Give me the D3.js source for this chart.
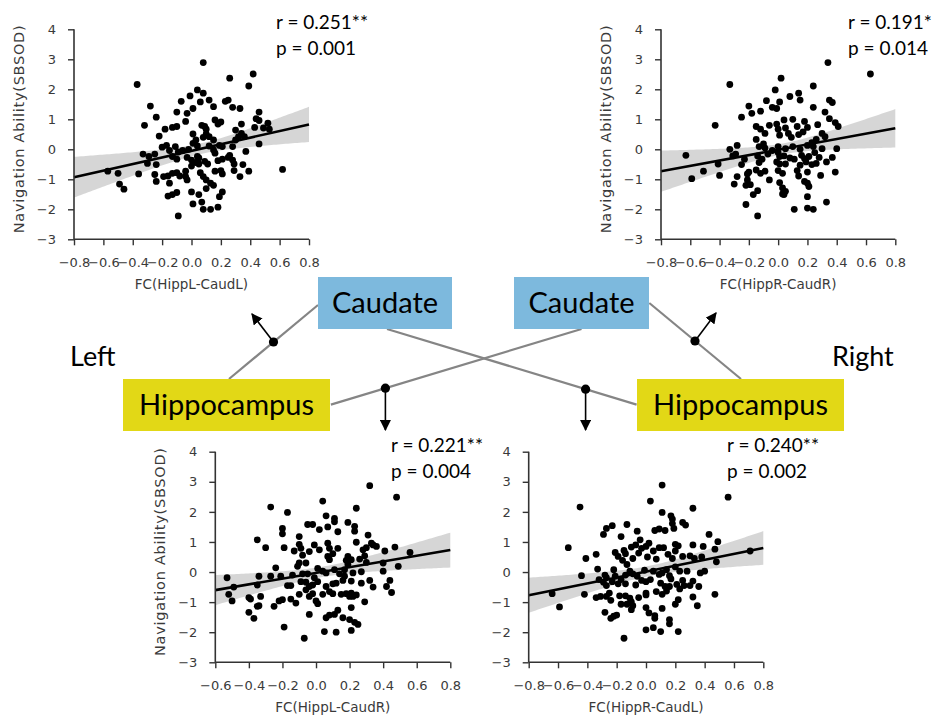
<!DOCTYPE html>
<html><head><meta charset="utf-8">
<script src="https://cdn.jsdelivr.net/npm/d3@7"></script>
<style>body{margin:0;background:#fff}svg{display:block}</style>
</head><body>
<svg id="c" width="933" height="720"></svg>
<script>
// ---------------- DATA ----------------
const yTicks = [-3,-2,-1,0,1,2,3,4];
const xTicksA = [-0.8,-0.6,-0.4,-0.2,0.0,0.2,0.4,0.6,0.8];
const xTicksB = [-0.6,-0.4,-0.2,0.0,0.2,0.4,0.6,0.8];
const xLabels = ["FC(HippL-CaudL)","FC(HippR-CaudR)","FC(HippL-CaudR)","FC(HippR-CaudL)"];
const yLabel = "Navigation Ability(SBSOD)";
const rTexts = ["r = 0.251**","r = 0.191*","r = 0.221**","r = 0.240**"];
const pTexts = ["p = 0.001","p = 0.014","p = 0.004","p = 0.002"];
const regionNames = ["Caudate","Caudate","Hippocampus","Hippocampus"];
const sideNames = ["Left","Right"];
// fitted line value at left and right end of each x axis
const fitEnds = [[-0.93,0.83],[-0.73,0.70],[-0.60,0.73],[-0.77,0.80]];

const ptsHippLCaudL = [[0.08,2.89],[0.42,2.51],[0.26,2.37],[-0.37,2.16],[0.39,2.11],[0.04,1.98],[0.08,1.87],[-0.01,1.78],[-0.07,1.6],[0.06,1.58],[0.12,1.64],[0.15,1.42],[-0.28,1.44],[0.23,1.6],[0.25,1.64],[0.28,1.4],[0.33,1.36],[-0.10,1.24],[-0.03,1.2],[0.01,1.36],[0.46,1.24],[-0.24,1.07],[-0.32,0.8],[-0.04,0.93],[0.07,0.8],[0.16,0.98],[0.2,0.91],[0.18,0.84],[0.44,1.02],[0.46,0.96],[0.52,0.87],[0.43,0.73],[-0.18,0.67],[-0.13,0.73],[-0.1,0.76],[0.09,0.76],[0.1,0.67],[0.01,0.51],[-0.22,0.44],[0.1,0.51],[0.12,0.42],[0.15,0.31],[0.08,0.4],[0.03,0.31],[0.34,0.84],[0.3,0.64],[0.36,0.42],[0.32,0.42],[0.34,0.53],[0.49,0.71],[0.53,0.67],[-0.2,0.07],[-0.17,0.13],[-0.15,-0.04],[-0.11,0.09],[-0.09,-0.09],[-0.06,-0.04],[-0.02,0],[0.01,0.2],[0.04,0.11],[0.12,0.11],[0.15,-0.02],[0.19,0.13],[0.21,0.09],[0.28,0.09],[0.3,0.31],[0.37,-0.07],[0.46,0.18],[-0.33,-0.16],[-0.29,-0.24],[-0.25,-0.16],[-0.3,-0.47],[-0.24,-0.51],[-0.13,-0.24],[-0.1,-0.33],[-0.03,-0.27],[0,-0.36],[0.03,-0.44],[0.05,-0.29],[0.09,-0.4],[0.11,-0.49],[0.05,-0.49],[0.04,-0.24],[0.16,-0.13],[0.18,-0.38],[0.21,-0.33],[0.25,-0.27],[0.28,-0.36],[0.26,-0.2],[0.35,-0.51],[0.29,-0.49],[-0.57,-0.73],[-0.5,-0.8],[-0.36,-0.82],[-0.25,-0.84],[-0.24,-1.07],[-0.19,-0.91],[-0.16,-0.89],[-0.13,-0.8],[-0.1,-0.78],[-0.08,-0.89],[-0.04,-0.91],[-0.03,-1.02],[-0.15,-1.13],[-0.04,-0.73],[0,-0.56],[0.06,-0.78],[0.08,-0.91],[0.1,-1.02],[0.13,-1.13],[0.15,-1.2],[0.16,-0.73],[0.21,-0.82],[0.2,-0.71],[0.29,-0.71],[0.33,-0.91],[0.39,-0.73],[-0.49,-1.16],[-0.46,-1.33],[0,-1.42],[0.05,-1.51],[0.1,-1.31],[-0.16,-1.56],[-0.13,-1.51],[-0.1,-1.44],[0.19,-1.58],[0.21,-1.42],[0.01,-1.82],[0.07,-1.76],[0.08,-2],[0.13,-2],[0.18,-1.93],[-0.09,-2.22],[0.62,-0.67]];

const ptsHippRCaudR = [[0.34,2.89],[0.63,2.51],[0.02,2.37],[-0.33,2.16],[0.24,2.11],[-0.02,1.98],[0.14,1.87],[0.15,1.64],[-0.08,1.62],[0.01,1.58],[0.08,1.76],[0.35,1.64],[0.37,1.56],[-0.2,1.44],[-0.04,1.4],[0.24,1.4],[-0.01,1.36],[-0.12,1.27],[-0.18,1.2],[-0.25,1.07],[0.32,1.24],[-0.43,0.8],[-0.06,0.8],[0.04,0.98],[0.1,1],[0.18,0.93],[0.2,0.73],[0.35,1.02],[0.39,0.89],[0.41,0.76],[-0.15,0.76],[-0.12,0.67],[-0.01,0.84],[0,0.67],[0.05,0.71],[0.07,0.53],[-0.15,0.33],[-0.09,0.53],[0.01,0.47],[0.14,0.49],[0.09,0.4],[0.17,0.58],[0.13,0.76],[0.27,0.82],[0.3,0.53],[0.32,0.42],[0.26,0.33],[0.23,0.22],[-0.33,0],[-0.28,0.13],[-0.13,0.09],[-0.1,0.18],[-0.09,0.04],[-0.04,-0.04],[0,0.09],[0.05,0.02],[0.1,0.09],[0.15,0],[0.2,0.13],[0.24,0.09],[0.3,0.02],[0.4,0.02],[-0.63,-0.2],[-0.23,-0.33],[-0.31,-0.22],[-0.29,-0.16],[-0.14,-0.22],[-0.11,-0.33],[-0.07,-0.16],[0,-0.11],[0.01,-0.24],[0.04,-0.22],[0.08,-0.29],[0.11,-0.33],[0.16,-0.2],[0.18,-0.31],[0.21,-0.24],[0.25,-0.11],[0.28,-0.27],[0.37,-0.27],[-0.41,-0.49],[-0.25,-0.51],[-0.13,-0.44],[-0.01,-0.42],[0.01,-0.49],[0.05,-0.49],[0.15,-0.53],[0.19,-0.42],[0.23,-0.51],[0.26,-0.47],[-0.51,-0.73],[-0.4,-0.87],[-0.28,-0.91],[-0.21,-0.82],[-0.2,-0.76],[-0.15,-0.69],[-0.12,-0.8],[-0.09,-0.73],[-0.06,-1.02],[0,-0.71],[0.03,-0.8],[0.13,-0.71],[0.14,-0.89],[0.2,-0.76],[0.29,-0.87],[0.39,-0.76],[0.33,-0.42],[-0.59,-0.98],[-0.3,-1.16],[-0.21,-1.02],[-0.22,-1.2],[-0.19,-1.18],[0.01,-1.11],[0.03,-1.29],[0.05,-1.4],[0.03,-1.49],[0.18,-1.07],[0.2,-1.13],[0.21,-1.24],[-0.17,-1.51],[-0.14,-1.38],[0.04,-1.51],[0.2,-1.58],[-0.22,-1.84],[0.11,-2],[0.2,-1.96],[0.24,-2],[0.33,-1.76],[-0.14,-2.22]];

const ptsHippLCaudR = [[0.32,2.87],[0.48,2.49],[0.04,2.36],[-0.27,2.16],[-0.17,1.98],[0.24,2.12],[0.06,1.87],[0.11,1.78],[0.11,1.67],[-0.05,1.58],[-0.02,1.58],[0.19,1.65],[0.23,1.52],[-0.2,1.45],[-0.2,1.27],[0.02,1.41],[0.07,1.5],[0.13,1.34],[0.23,1.36],[-0.35,1.07],[-0.1,1.18],[-0.1,0.92],[-0.19,0.81],[-0.3,0.81],[-0.13,0.7],[-0.09,0.79],[-0.08,0.56],[-0.04,0.68],[-0.01,0.9],[0.02,0.74],[0.07,0.96],[0.08,0.79],[0.1,0.61],[0.13,0.79],[0.24,0.99],[0.31,1.23],[0.33,0.96],[0.34,0.9],[0.36,0.85],[0.28,0.74],[0.3,0.81],[0.47,0.83],[0.56,0.65],[0.41,0.7],[0.07,0.52],[0.08,0.41],[0.19,0.52],[0.18,0.39],[0.21,0.41],[0.26,0.43],[0.29,0.54],[0.3,0.32],[0.19,0.25],[0.17,0.08],[-0.06,0.3],[-0.11,0.19],[-0.1,0.3],[-0.24,0.14],[-0.34,-0.14],[-0.27,-0.14],[-0.21,-0.14],[-0.14,-0.1],[-0.08,-0.06],[-0.05,-0.06],[0.01,0.12],[0.04,0.03],[0.06,-0.03],[0.11,0.08],[0.14,-0.06],[0.17,-0.14],[0.22,-0.03],[0.27,0.01],[0.4,0.03],[0.49,0.19],[0.4,0.3],[-0.53,-0.19],[-0.49,-0.5],[-0.52,-0.74],[-0.35,-0.43],[-0.33,-0.81],[-0.17,-0.45],[-0.15,-0.45],[-0.09,-0.32],[-0.06,-0.34],[-0.04,-0.48],[-0.02,-0.43],[-0.01,-0.19],[0.01,-0.32],[0.06,-0.48],[0.1,-0.39],[0.12,-0.37],[0.16,-0.28],[0.21,-0.3],[0.27,-0.37],[0.32,-0.28],[0.34,-0.5],[0.42,-0.48],[0.44,-0.28],[0.45,-0.68],[-0.5,-0.96],[-0.4,-0.85],[-0.39,-0.9],[-0.34,-1.12],[-0.25,-1.14],[-0.22,-0.96],[-0.2,-0.92],[-0.15,-0.9],[-0.12,-1.03],[-0.1,-0.74],[-0.06,-0.59],[-0.04,-0.81],[-0.02,-0.72],[0,-0.96],[0.01,-1.05],[0.04,-0.74],[0.08,-0.65],[0.1,-0.72],[0.15,-0.74],[0.18,-0.72],[0.2,-0.81],[0.21,-0.7],[0.22,-0.81],[0.24,-0.76],[0.29,-0.99],[-0.4,-1.34],[-0.37,-1.54],[-0.35,-1.14],[-0.04,-1.41],[0.06,-1.52],[0.08,-1.43],[0.11,-1.41],[0.13,-1.27],[0.16,-1.52],[0.2,-1.58],[0.21,-1.18],[0.25,-1.74],[0.23,-1.67],[-0.19,-1.83],[0.05,-1.98],[0.12,-2],[0.21,-1.94],[-0.07,-2.2]];

const ptsHippRCaudL = [[0.11,2.89],[0.56,2.49],[-0.45,2.16],[0.03,2.36],[0.11,1.98],[0.32,2.12],[0.17,1.87],[0.18,1.76],[0.18,1.61],[0.25,1.65],[0.27,1.56],[0.06,1.38],[0.09,1.43],[0.13,1.38],[0.19,1.45],[-0.23,1.54],[-0.27,1.45],[-0.29,1.25],[-0.13,1.58],[-0.17,1.18],[-0.06,1.36],[0.43,1.25],[0.49,1.01],[-0.53,0.81],[-0.41,0.45],[-0.34,0.59],[-0.15,0.72],[-0.14,0.61],[-0.1,0.83],[-0.07,0.9],[-0.04,1.07],[-0.03,0.79],[0,0.85],[0.02,0.96],[0.09,0.81],[0.12,0.81],[0.2,0.92],[0.22,0.87],[0.32,0.9],[0.39,0.85],[0.47,0.76],[0.48,0.34],[-0.21,0.65],[-0.19,0.52],[-0.16,0.39],[-0.13,0.25],[-0.09,0.45],[-0.05,0.63],[0.01,0.5],[0.05,0.7],[0.07,0.43],[0.15,0.59],[0.18,0.45],[0.2,0.7],[0.25,0.52],[0.3,0.54],[0.33,0.45],[0.38,0.5],[0.71,0.7],[-0.33,0.1],[-0.28,-0.1],[-0.27,-0.19],[-0.22,0.08],[-0.21,-0.14],[-0.17,-0.25],[-0.14,-0.1],[-0.11,0.03],[-0.09,-0.06],[-0.06,-0.14],[-0.03,-0.28],[-0.01,0.06],[0.03,-0.25],[0.05,0.03],[0.09,-0.08],[0.11,-0.03],[0.14,0.08],[0.16,-0.12],[0.2,0.17],[0.23,0.03],[0.25,-0.28],[0.28,0.03],[0.37,-0.03],[0.4,0.03],[-0.44,-0.12],[-0.32,-0.25],[-0.29,-0.34],[-0.27,-0.45],[-0.23,-0.32],[-0.19,-0.39],[-0.14,-0.39],[-0.07,-0.43],[0,-0.32],[0.1,-0.37],[0.13,-0.48],[0.17,-0.23],[0.21,-0.41],[0.23,-0.56],[0.26,-0.45],[0.3,-0.45],[0.32,-0.3],[0.36,-0.48],[-0.64,-0.72],[-0.42,-0.74],[-0.34,-0.85],[-0.31,-0.81],[-0.27,-0.81],[-0.25,-0.7],[-0.24,-0.94],[-0.18,-0.79],[-0.14,-0.79],[-0.11,-0.87],[-0.1,-0.99],[-0.05,-0.85],[0,-0.76],[0,-0.7],[0.07,-0.65],[0.11,-0.74],[0.14,-0.63],[0.16,-0.48],[0.22,-0.92],[0.32,-0.83],[0.35,-1.12],[0.47,-0.74],[-0.59,-1.16],[-0.28,-1.34],[-0.24,-1.54],[-0.22,-1.47],[-0.2,-1.43],[-0.17,-1.07],[-0.13,-1.07],[-0.1,-1.25],[-0.09,-1.12],[0,-1.18],[0.02,-1.36],[0.06,-1.45],[0.06,-1.54],[0.11,-1.21],[0.16,-1.58],[0.16,-1.72],[0.2,-1.07],[0,-1.92],[0.05,-1.85],[0.1,-1.98],[0.22,-1.98],[-0.15,-2.2]];

// ---------------- LAYOUT ----------------
const svg = d3.select("#c");
const panels = [
  {pts: ptsHippLCaudL, fit: fitEnds[0], xt: xTicksA, x0:74, x1:309, y0:239.3, y1:29.3, xl:xLabels[0], yl:true, r:rTexts[0], p:pTexts[0], tx:276},
  {pts: ptsHippRCaudR, fit: fitEnds[1], xt: xTicksA, x0:661, x1:895.3, y0:239.3, y1:29.3, xl:xLabels[1], yl:true, r:rTexts[1], p:pTexts[1], tx:848},
  {pts: ptsHippLCaudR, fit: fitEnds[2], xt: xTicksB, x0:215.3, x1:450.3, y0:662.3, y1:451.7, xl:xLabels[2], yl:true, r:rTexts[2], p:pTexts[2], tx:391},
  {pts: ptsHippRCaudL, fit: fitEnds[3], xt: xTicksA, x0:528.7, x1:763.3, y0:662.3, y1:451.7, xl:xLabels[3], yl:false, r:rTexts[3], p:pTexts[3], tx:727}
];
const fmt = d3.format(".1f");
const tickFont = "DejaVu Sans, sans-serif";
const calFont = "Lato, 'Open Sans', sans-serif";

panels.forEach(P => {
  const xd = [P.xt[0], P.xt[P.xt.length-1]];
  const x = d3.scaleLinear().domain(xd).range([P.x0, P.x1]);
  const y = d3.scaleLinear().domain([-3,4]).range([P.y0, P.y1]);
  const g = svg.append("g");

  const fitY = d3.scaleLinear().domain(xd).range(P.fit);
  const n = P.pts.length;
  const mx = d3.mean(P.pts, d=>d[0]);
  const sxx = d3.sum(P.pts, d=>(d[0]-mx)**2);
  const s = Math.sqrt(d3.sum(P.pts, d=>(d[1]-fitY(d[0]))**2)/(n-2));
  const tcrit = 1.977;
  const grid = d3.range(0, 101).map(i => xd[0] + (xd[1]-xd[0])*i/100);
  const band = grid.map(v => {
    const h = tcrit*s*Math.sqrt(1/n + (v-mx)**2/sxx);
    return {x:v, lo:fitY(v)-h, hi:fitY(v)+h};
  });
  g.append("path").datum(band)
    .attr("d", d3.area().x(d=>x(d.x)).y0(d=>y(d.lo)).y1(d=>y(d.hi)))
    .attr("fill", "rgba(0,0,0,0.16)");

  g.append("g").selectAll("circle").data(P.pts).join("circle")
    .attr("cx", d=>x(d[0])).attr("cy", d=>y(d[1])).attr("r", 3.4).attr("fill", "#000");

  g.append("path").datum(xd)
    .attr("d", d3.line().x(d=>x(d)).y(d=>y(fitY(d))))
    .attr("stroke", "#000").attr("stroke-width", 2.6).attr("fill", "none");

  const ax = d3.axisBottom(x).tickValues(P.xt).tickFormat(fmt).tickSize(6).tickPadding(12);
  const gx = g.append("g").attr("transform", `translate(0,${P.y0})`).call(ax);
  const ay = d3.axisLeft(y).tickValues(yTicks).tickFormat(d3.format("d")).tickSize(6).tickPadding(12);
  const gy = g.append("g").attr("transform", `translate(${P.x0},0)`).call(ay);
  [gx, gy].forEach(ga => {
    ga.attr("font-size", 13).attr("font-family", tickFont);
    ga.select(".domain").attr("stroke", "#333").attr("stroke-width", 1.6);
    ga.selectAll(".tick line").attr("stroke", "#333").attr("stroke-width", 1.4);
    ga.selectAll(".tick text").attr("fill", "#3a3a3a").style("font-family", tickFont).style("font-size", "13px");
  });
  gx.select(".domain").attr("d", `M${P.x0},0H${P.x1}`);
  gy.select(".domain").attr("d", `M0,${P.y0}V${P.y1}`);

  g.append("text").attr("x", (P.x0+P.x1)/2).attr("y", P.y0+50).attr("text-anchor","middle")
    .attr("fill", "#3a3a3a").style("font-family", tickFont).style("font-size","13.5px").text(P.xl);
  if (P.yl) {
    const cy = (P.y0+P.y1)/2 - 5;
    g.append("text").attr("transform", `translate(${P.x0-50},${cy}) rotate(-90)`)
      .attr("text-anchor","middle").attr("fill","#3a3a3a")
      .attr("textLength", 208)
      .style("font-family", tickFont).style("font-size","14.5px").text(yLabel);
  }
  g.append("text").attr("x", P.tx).attr("y", P.y1+0).attr("fill","#000")
    .style("font-family", calFont).style("font-size","19px").text(P.r);
  g.append("text").attr("x", P.tx).attr("y", P.y1+26).attr("fill","#000")
    .style("font-family", calFont).style("font-size","19px").text(P.p);
});

// ---------------- DIAGRAM ----------------
const d = svg.append("g");
const lineC = "#858585";
const conn = [
  [[318,305],[229,379]],
  [[387,329],[636.6,404.6]],
  [[581.5,329],[330.9,404.6]],
  [[649.3,303],[741,379]]
];
conn.forEach(c => d.append("line").attr("x1",c[0][0]).attr("y1",c[0][1]).attr("x2",c[1][0]).attr("y2",c[1][1])
  .attr("stroke", lineC).attr("stroke-width", 2.2));

const boxes = [
  {x:318, y:277, w:134, h:52, fill:"#7db9dd", t:regionNames[0]},
  {x:514, y:277, w:135, h:52, fill:"#7db9dd", t:regionNames[1]},
  {x:123, y:379, w:207, h:52, fill:"#e2d816", t:regionNames[2]},
  {x:637, y:379, w:207, h:52, fill:"#e2d816", t:regionNames[3]}
];
boxes.forEach(bx => {
  d.append("rect").attr("x",bx.x).attr("y",bx.y).attr("width",bx.w).attr("height",bx.h).attr("fill",bx.fill);
  d.append("text").attr("x",bx.x+bx.w/2).attr("y",bx.y+bx.h/2+10).attr("text-anchor","middle")
    .style("font-family",calFont).style("font-size","29px").attr("fill","#000").text(bx.t);
});

const defs = svg.append("defs");
defs.append("marker").attr("id","ah").attr("viewBox","0 0 10 10").attr("refX",9).attr("refY",5)
  .attr("markerWidth",7).attr("markerHeight",7).attr("orient","auto")
  .append("path").attr("d","M0,0L10,5L0,10z").attr("fill","#000");

const arrows = [
  [[273.5,342],[252,314]],
  [[695,341],[716,313]],
  [[385.4,388.2],[385.4,430]],
  [[585.6,389.2],[585.6,430]]
];
arrows.forEach(ar => {
  d.append("line").attr("x1",ar[0][0]).attr("y1",ar[0][1]).attr("x2",ar[1][0]).attr("y2",ar[1][1])
    .attr("stroke","#000").attr("stroke-width",1.6).attr("marker-end","url(#ah)");
  d.append("circle").attr("cx",ar[0][0]).attr("cy",ar[0][1]).attr("r",4.6).attr("fill","#000");
});

d.append("text").attr("x",70).attr("y",366).style("font-family",calFont).style("font-size","27px").text(sideNames[0]);
d.append("text").attr("x",832).attr("y",366).style("font-family",calFont).style("font-size","27px").text(sideNames[1]);
</script>
</body></html>
